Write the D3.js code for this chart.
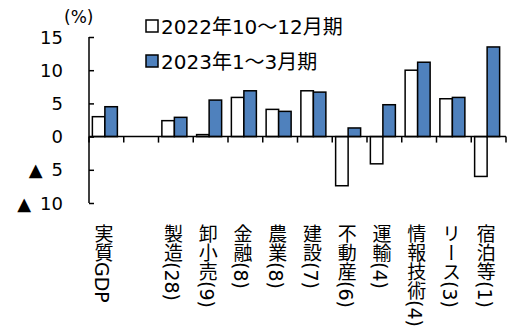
<!DOCTYPE html>
<html>
<head>
<meta charset="utf-8">
<script src="https://cdn.jsdelivr.net/npm/d3@7/dist/d3.min.js"></script>
<style>
  html, body { margin: 0; padding: 0; background: #fff; }
  svg { display: block; }
  text { font-family: "DejaVu Sans", "Noto Sans CJK JP", sans-serif; fill: #000; }
</style>
</head>
<body>
<svg id="chart" width="507" height="334"></svg>
<script>
// Industry categories (count of firms in parentheses); the second slot is left blank
const categories = ["実質GDP", "", "製造(28)", "卸小売(9)", "金融(8)", "農業(8)", "建設(7)", "不動産(6)", "運輸(4)", "情報技術(4)", "リース(3)", "宿泊等(1)"];
const seriesNames = ["2022年10～12月期", "2023年1～3月期"];
const q4_2022 = [3.0, null, 2.4, 0.3, 5.9, 4.1, 6.9, -7.4, -4.1, 10.0, 5.7, -6.0];
const q1_2023 = [4.5, null, 2.9, 5.5, 6.9, 3.8, 6.7, 1.3, 4.8, 11.2, 5.9, 13.5];
const yTicks = [15, 10, 5, 0, -5, -10];
const yTickLabels = ["15", "10", "5", "0", "▲\u20025", "▲\u200210"];

const svg = d3.select("#chart");
const colors = ["#ffffff", "#4f81bd"];

const x = d3.scaleBand().domain(categories).range([89, 506]).paddingInner(0).paddingOuter(0);
const y = d3.scaleLinear().domain([-10, 15]).range([203, 37]);

const barW = 12.5;
const series = [q4_2022, q1_2023];

// Bars
series.forEach((vals, si) => {
  svg.append("g").selectAll("rect")
    .data(categories.map((c, i) => ({ c, v: vals[i] })).filter(d => d.v !== null))
    .join("rect")
    .attr("x", d => x(d.c) + x.bandwidth() / 2 - barW - 1.5 + si * barW)
    .attr("y", d => y(Math.max(0, d.v)))
    .attr("width", barW)
    .attr("height", d => Math.abs(y(d.v) - y(0)))
    .attr("fill", colors[si])
    .attr("stroke", "#000")
    .attr("stroke-width", 1.5);
});

// Y axis with ticks pointing inward
const yAxis = d3.axisRight(y).tickValues(yTicks).tickSize(5).tickFormat("");
const gy = svg.append("g").attr("transform", "translate(89,0)").call(yAxis);
gy.select(".domain").remove();
gy.selectAll("line").attr("stroke", "#000").attr("stroke-width", 1.5);
svg.append("line").attr("x1", 89).attr("x2", 89).attr("y1", y(15)).attr("y2", y(-10))
  .attr("stroke", "#000").attr("stroke-width", 1.5);

// Y tick labels
svg.append("g").selectAll("text")
  .data(yTicks)
  .join("text")
  .attr("x", 63)
  .attr("y", d => y(d) + 6.5)
  .attr("text-anchor", "end")
  .attr("font-size", 18)
  .text((d, i) => yTickLabels[i]);

svg.append("text").attr("x", 64).attr("y", 23).attr("font-size", 17).text("(%)");

// X axis at zero with ticks between bands
const boundaries = categories.map(c => x(c) + x.bandwidth()).concat([x(categories[0])]);
svg.append("line").attr("x1", 89).attr("x2", 506).attr("y1", y(0)).attr("y2", y(0))
  .attr("stroke", "#000").attr("stroke-width", 1.5);
svg.append("g").selectAll("line")
  .data(boundaries)
  .join("line")
  .attr("x1", d => d).attr("x2", d => d)
  .attr("y1", y(0)).attr("y2", y(0) + 6)
  .attr("stroke", "#000").attr("stroke-width", 1.5);

// Vertical category labels
svg.append("g").selectAll("text")
  .data(categories.filter(c => c !== ""))
  .join("text")
  .attr("x", d => x(d) + x.bandwidth() / 2 - 4)
  .attr("y", 224)
  .attr("font-size", 19)
  .style("writing-mode", "vertical-rl")
  .text(d => d);

// Legend
const legend = svg.append("g");
seriesNames.forEach((name, i) => {
  const ly = 20 + i * 35;
  legend.append("rect").attr("x", 146).attr("y", ly).attr("width", 12).attr("height", 12)
    .attr("fill", colors[i]).attr("stroke", "#000").attr("stroke-width", 1.5);
  legend.append("text").attr("x", 161).attr("y", ly + 14).attr("font-size", 20).text(name);
});
</script>
</body>
</html>
